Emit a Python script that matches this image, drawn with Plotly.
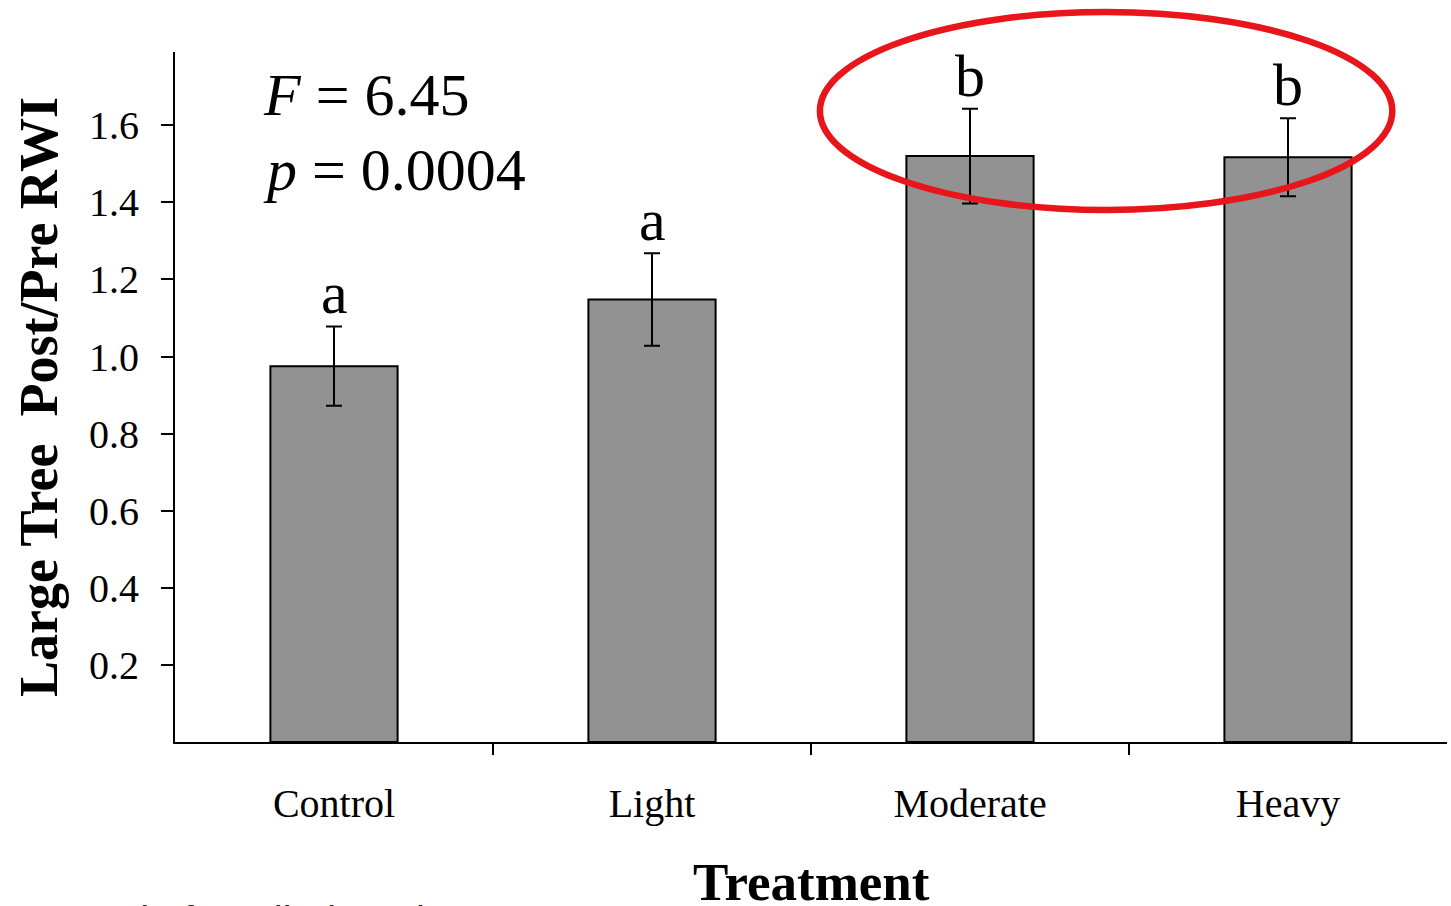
import plotly.graph_objects as go

categories = ["Control", "Light", "Moderate", "Heavy"]
means = [0.975, 1.148, 1.52, 1.517]
errors = [0.103, 0.12, 0.123, 0.101]
letters = ["a", "a", "b", "b"]
y_ticks = [0.2, 0.4, 0.6, 0.8, 1.0, 1.2, 1.4, 1.6]
y_tick_labels = ["0.2", "0.4", "0.6", "0.8", "1.0", "1.2", "1.4", "1.6"]

SERIF = "Liberation Serif, Times New Roman, serif"

positions = list(range(len(categories)))
boundaries = [p + 0.5 for p in positions[:-1]]

fig = go.Figure()
fig.add_trace(go.Bar(
    x=positions, y=means, width=0.4,
    marker=dict(color="#929292", line=dict(color="black", width=2)),
    error_y=dict(type="data", array=errors, visible=True, color="black", thickness=2, width=8),
    showlegend=False,
))

for p, m, e, l in zip(positions, means, errors, letters):
    fig.add_annotation(x=p, y=m + e, text=l, showarrow=False, yanchor="bottom", yshift=-2,
                       font=dict(family=SERIF, size=60, color="black"))

fig.add_annotation(xref="paper", yref="paper", x=0.068, y=0.938, xanchor="left", yanchor="middle",
                   text="<i>F</i> = 6.45", showarrow=False, font=dict(family=SERIF, size=60, color="black"))
fig.add_annotation(xref="paper", yref="paper", x=0.068, y=0.829, xanchor="left", yanchor="middle",
                   text="<i>p</i> = 0.0004", showarrow=False, font=dict(family=SERIF, size=60, color="black"))

# x-axis title as annotation (so it can sit as low as in the reference)
fig.add_annotation(xref="paper", yref="paper", x=0.5, y=-0.203, xanchor="center", yanchor="middle",
                   text="<b>Treatment</b>", showarrow=False, font=dict(family=SERIF, size=53, color="black"))

fig.add_annotation(xref="paper", yref="paper", x=-0.125, y=-0.224, xanchor="left", yanchor="top",
                   text="Journal of Applied Ecology", showarrow=False,
                   font=dict(family="Liberation Sans, Arial, sans-serif", size=40, color="#222"))

fig.add_shape(type="circle", xref="paper", yref="paper", x0=0.507, x1=0.957, y0=0.771, y1=1.058,
              line=dict(color="#e8151b", width=6.5))

# invisible trace to activate the boundary-tick axis
fig.add_trace(go.Scatter(x=positions, y=means, xaxis="x2", mode="markers",
                         marker=dict(opacity=0), showlegend=False, hoverinfo="skip"))

fig.update_layout(
    width=1451, height=906,
    margin=dict(l=175, r=4, t=52, b=164),
    paper_bgcolor="white", plot_bgcolor="white",
    xaxis=dict(
        range=[-0.5, 3.5], tickvals=positions, ticktext=categories,
        showline=True, linecolor="black", linewidth=2,
        ticks="", showgrid=False, zeroline=False, ticklabelstandoff=25,
        tickfont=dict(family=SERIF, size=40, color="black"),
    ),
    xaxis2=dict(
        overlaying="x", matches="x", side="bottom", range=[-0.5, 3.5],
        tickvals=boundaries, showticklabels=False,
        ticks="outside", ticklen=12, tickwidth=2, tickcolor="black",
        showgrid=False, zeroline=False, showline=False,
    ),
    yaxis=dict(
        range=[0, 1.79], showline=True, linecolor="black", linewidth=2,
        ticks="outside", ticklen=12, tickwidth=2, tickcolor="black",
        tickvals=y_ticks, ticktext=y_tick_labels, showgrid=False, zeroline=False,
        ticklabelstandoff=14,
        tickfont=dict(family=SERIF, size=40, color="black"),
        title=dict(text="<b>Large Tree  Post/Pre RWI</b>", font=dict(family=SERIF, size=54, color="black"), standoff=14),
    ),
)

fig.write_html("out.html")
